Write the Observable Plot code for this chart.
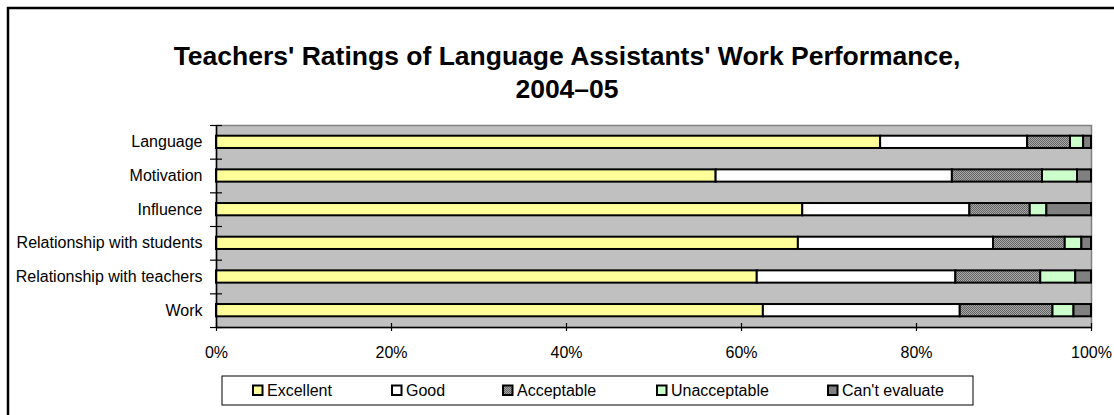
<!DOCTYPE html>
<html><head><meta charset="utf-8">
<script src="https://cdn.jsdelivr.net/npm/d3@7"></script>
<script src="https://cdn.jsdelivr.net/npm/@observablehq/plot@0.6"></script>
<style>html,body{margin:0;padding:0;background:#fff;overflow:hidden;} #chart svg{display:block}</style>
</head><body><div id="chart"></div>
<script>
// ---- data ----
const categories = ["Language", "Motivation", "Influence", "Relationship with students", "Relationship with teachers", "Work"];
const ratings = ["Excellent", "Good", "Acceptable", "Unacceptable", "Can't evaluate"];
const excellent    = [75.9, 57.1, 67.0, 66.5, 61.8, 62.5];
const good         = [16.8, 27.0, 19.1, 22.3, 22.7, 22.5];
const acceptable   = [4.9, 10.3, 6.9, 8.2, 9.7, 10.6];
const unacceptable = [1.5, 4.0, 1.9, 1.9, 4.0, 2.4];
const cantEvaluate = [0.9, 1.6, 5.1, 1.1, 1.8, 2.0];
const xTicks = [0, 20, 40, 60, 80, 100];
const titleLines = ["Teachers' Ratings of Language Assistants' Work Performance,", "2004\u201305"];

// ---- styles ----
const colors = ["#FFFF99", "#FFFFFF", "url(#acceptable-pattern)", "#CCFFCC", "#808080"];
const legendX = [252, 391, 502, 656, 827];
const font = "'Liberation Sans', Arial, sans-serif";

const series = [excellent, good, acceptable, unacceptable, cantEvaluate];
const rows = [];
categories.forEach((c, i) => ratings.forEach((r, k) => rows.push({category: c, i, i2: i + 1, rating: r, value: series[k][i]})));

const plot = Plot.plot({
  width: 1114, height: 415,
  marginLeft: 216, marginRight: 23, marginTop: 125, marginBottom: 88,
  style: {fontFamily: font, fontSize: "16px", background: "#fff", color: "#000"},
  x: {domain: [0, 100]},
  y: {domain: [0, 6], reverse: true},
  color: {domain: ratings, range: colors},
  marks: [
    Plot.frame({fill: "#C0C0C0", stroke: "#808080", strokeWidth: 1.5}),
    Plot.rectX(rows, {x: "value", y1: "i", y2: "i2", fill: "rating", stroke: "#000", strokeWidth: 2, insetTop: 10.7, insetBottom: 10.7}),
    Plot.ruleX([0], {stroke: "#000", strokeWidth: 1.5}),
    Plot.ruleY([6], {stroke: "#000", strokeWidth: 1.5}),
    Plot.ruleY(d3.range(categories.length + 1), {y: d => d, x1: 0, x2: 0, insetLeft: -6, insetRight: -6, stroke: "#000", strokeWidth: 1.2}),
    Plot.ruleX(xTicks, {x: d => d, y1: 6, y2: 6, insetTop: -4, insetBottom: -4, stroke: "#000", strokeWidth: 1.2}),
    Plot.axisY(d3.range(categories.length).map(i => i + 0.5), {tickFormat: d => categories[Math.round(d - 0.5)], tickSize: 0, tickPadding: 14, fontSize: 16, label: null}),
    Plot.axisX(xTicks, {tickFormat: d => d + "%", tickSize: 0, tickPadding: 19, fontSize: 16, label: null})
  ]
});

const svg = d3.select(plot);
const defs = svg.insert("defs", ":first-child");
const pat = defs.append("pattern").attr("id", "acceptable-pattern").attr("patternUnits", "userSpaceOnUse").attr("width", 2).attr("height", 2);
pat.append("rect").attr("width", 2).attr("height", 2).attr("fill", "#a8a8a8");
pat.append("rect").attr("width", 1).attr("height", 1).attr("fill", "#646464");
pat.append("rect").attr("x", 1).attr("y", 1).attr("width", 1).attr("height", 1).attr("fill", "#646464");

// outer border (top and left edges visible)
svg.append("rect").attr("x", 8).attr("y", 8).attr("width", 1300).attr("height", 600)
  .attr("fill", "none").attr("stroke", "#000").attr("stroke-width", 2.5);

// title
const title = svg.append("g").attr("font-family", font).attr("font-weight", "bold").attr("font-size", 26.5).attr("text-anchor", "middle").attr("fill", "#000");
titleLines.forEach((t, j) => title.append("text").attr("x", 567).attr("y", 65 + j * 33).text(t));

// legend
const lg = svg.append("g").attr("font-family", font).attr("font-size", 16).attr("text-anchor", "start").attr("fill", "#000");
lg.append("rect").attr("x", 222).attr("y", 376).attr("width", 751).attr("height", 29).attr("fill", "#fff").attr("stroke", "#000").attr("stroke-width", 1);
ratings.forEach((r, k) => {
  lg.append("rect").attr("x", legendX[k] + 1).attr("y", 385.5).attr("width", 9.5).attr("height", 9.5)
    .attr("fill", colors[k]).attr("stroke", "#000").attr("stroke-width", 2);
  lg.append("text").attr("x", legendX[k] + 15).attr("y", 395.5).attr("text-anchor", "start").text(r);
});

document.getElementById("chart").appendChild(plot);
</script>
</body></html>
